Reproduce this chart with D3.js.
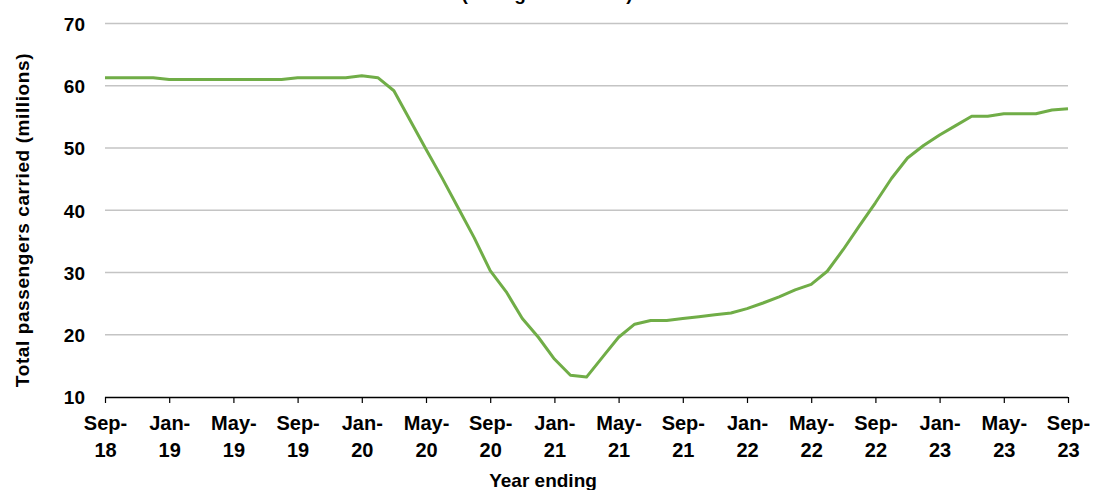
<!DOCTYPE html>
<html>
<head>
<meta charset="utf-8">
<script src="https://cdn.jsdelivr.net/npm/d3@7"></script>
<style>
  body { margin: 0; background: #fff; }
  svg { display: block; font-family: Arial, "Liberation Sans", sans-serif; }
  .grid line { stroke: #c4c4c4; stroke-width: 1.5; }
  .axis text { font-weight: bold; fill: #000; }
  .y-axis text { font-size: 19px; }
  .x-axis text { font-size: 20px; }
  .axis-title { font-size: 19px; font-weight: bold; fill: #000; }
</style>
</head>
<body>
<div id="chart"></div>
<script>
// Monthly data, Sep-18 .. Sep-23 (year ending)
const months = ["Sep","Oct","Nov","Dec","Jan","Feb","Mar","Apr","May","Jun","Jul","Aug"];
const startYear = 18;
const passengers = [
  61.3, 61.3, 61.3, 61.3, 61.0, 61.0, 61.0, 61.0, 61.0, 61.0, 61.0, 61.0,
  61.3, 61.3, 61.3, 61.3, 61.6, 61.3, 59.2, 54.5, 49.8, 45.2, 40.4, 35.6,
  30.3, 26.9, 22.6, 19.6, 16.1, 13.5, 13.2, 16.4, 19.6, 21.7, 22.3, 22.3,
  22.6, 22.9, 23.2, 23.5, 24.2, 25.1, 26.1, 27.2, 28.1, 30.2, 33.7, 37.5,
  41.2, 45.1, 48.4, 50.4, 52.1, 53.6, 55.1, 55.1, 55.5, 55.5, 55.5, 56.1, 56.3
];
const yTicks = [10, 20, 30, 40, 50, 60, 70];
const labelEvery = 4;

const labels = passengers.map((d, i) => {
  const m = months[i % 12];
  const yr = startYear + Math.floor((i + 8) / 12);
  return { m, yr };
});

const W = 1097, H = 490;
const margin = { top: 23.5, right: 29, bottom: 93, left: 105 };
const width = W - margin.left - margin.right;
const height = H - margin.top - margin.bottom;

const svg = d3.select("#chart").append("svg")
  .attr("width", W).attr("height", H);

const g = svg.append("g")
  .attr("transform", `translate(${margin.left},${margin.top})`);

const x = d3.scaleLinear().domain([0, passengers.length - 1]).range([0, width]);
const y = d3.scaleLinear().domain([10, 70]).range([height, 0]);

// Title sits mostly above the visible area, as in the source
svg.append("text")
  .attr("class", "axis-title")
  .attr("x", 547).attr("y", 0)
  .attr("text-anchor", "middle")
  .text("(rolling 12 months)");

// Gridlines
g.append("g").attr("class", "grid")
  .selectAll("line")
  .data(yTicks.filter(t => t > 10))
  .join("line")
  .attr("x1", 0).attr("x2", width)
  .attr("y1", d => y(d)).attr("y2", d => y(d));

// Y axis (labels only)
const yAxis = g.append("g").attr("class", "axis y-axis")
  .call(d3.axisLeft(y).tickValues(yTicks).tickSize(0).tickPadding(20));
yAxis.select(".domain").remove();
yAxis.selectAll("text").attr("dy", "0.36em");

// X axis
const tickIdx = d3.range(0, passengers.length, labelEvery);
const xAxis = g.append("g").attr("class", "axis x-axis")
  .attr("transform", `translate(0,${height})`)
  .call(d3.axisBottom(x).tickValues(tickIdx).tickSize(6).tickSizeOuter(0).tickFormat(""));
xAxis.select(".domain").attr("stroke", "#000").attr("stroke-width", 1.5)
  .attr("d", `M0,0.5H${width}`);
xAxis.selectAll(".tick line").attr("stroke", "#000").attr("stroke-width", 1.2);

xAxis.selectAll(".tick").each(function (d) {
  const t = d3.select(this).append("text")
    .attr("text-anchor", "middle")
    .attr("y", 33);
  t.append("tspan").attr("x", 0).text(labels[d].m + "-");
  t.append("tspan").attr("x", 0).attr("dy", 27).text(labels[d].yr);
});

// Axis titles
g.append("text")
  .attr("class", "axis-title")
  .attr("text-anchor", "middle")
  .attr("x", 543 - margin.left)
  .attr("y", 487 - margin.top)
  .text("Year ending");

svg.append("text")
  .attr("class", "axis-title")
  .attr("text-anchor", "middle")
  .attr("transform", "rotate(-90)")
  .attr("x", -220)
  .attr("y", 29)
  .style("letter-spacing", "0.6px")
  .text("Total passengers carried (millions)");

// Line
const line = d3.line()
  .x((d, i) => x(i))
  .y(d => y(d));

g.append("path")
  .datum(passengers)
  .attr("fill", "none")
  .attr("stroke", "#70ad47")
  .attr("stroke-width", 3)
  .attr("stroke-linejoin", "round")
  .attr("d", line);
</script>
</body>
</html>
